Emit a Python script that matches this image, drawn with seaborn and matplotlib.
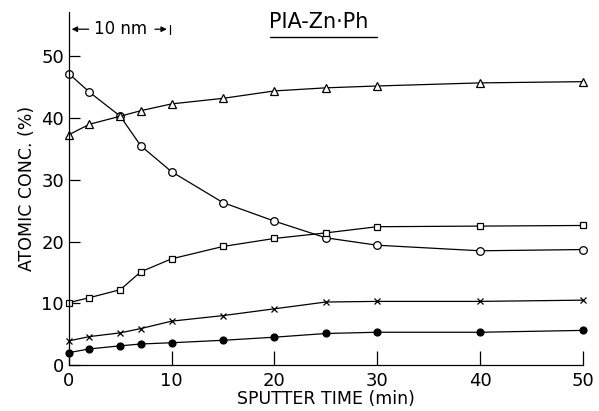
import pandas as pd
import matplotlib
matplotlib.use("Agg")
import matplotlib.pyplot as plt
import seaborn as sns

# sputter times (min)
t = [0, 2, 5, 7, 10, 15, 20, 25, 30, 40, 50]

# atomic concentrations (%)
open_circle = [47.2, 44.2, 40.3, 35.5, 31.3, 26.3, 23.3, 20.6, 19.4, 18.5, 18.7]
triangle = [37.3, 39.0, 40.3, 41.2, 42.3, 43.2, 44.4, 44.9, 45.2, 45.7, 45.9]
square = [10.1, 10.9, 12.2, 15.1, 17.2, 19.2, 20.5, 21.4, 22.4, 22.5, 22.6]
cross = [3.9, 4.6, 5.2, 5.9, 7.1, 8.0, 9.1, 10.2, 10.3, 10.3, 10.5]
filled = [2.0, 2.6, 3.1, 3.4, 3.6, 4.0, 4.5, 5.1, 5.3, 5.3, 5.6]

yticks = [0, 10, 20, 30, 40, 50]
xticks = [0, 10, 20, 30, 40, 50]

sns.set_style("ticks")
plt.rcParams['font.family'] = ['DejaVu Sans']
plt.rcParams['text.color'] = 'black'
plt.rcParams['axes.labelcolor'] = 'black'

fig = plt.figure(figsize=(5.99, 4.11), dpi=100)
ax = fig.add_axes([0.115, 0.112, 0.858, 0.859])

styles = [
    (open_circle, 'o', 'white', 5.5),
    (triangle, '^', 'white', 5.5),
    (square, 's', 'white', 5),
    (cross, 'x', 'black', 4.5),
    (filled, 'o', 'black', 5),
]
for vals, mk, fc, ms in styles:
    df = pd.DataFrame({'time': t, 'conc': vals})
    sns.lineplot(data=df, x='time', y='conc', ax=ax, color='black', lw=0.9,
                 marker=mk, markersize=ms, markerfacecolor=fc,
                 markeredgecolor='black', markeredgewidth=0.9, clip_on=False)

ax.set_xlim(0, 50)
ax.set_ylim(0, 57.2)
ax.set_xticks(xticks)
ax.set_yticks(yticks)
ax.tick_params(direction='in', length=8, width=0.9, labelsize=13, colors='black')
ax.tick_params(axis='x', length=10, pad=5)
sns.despine(ax=ax)
for s in ['left', 'bottom']:
    ax.spines[s].set_linewidth(0.9)
    ax.spines[s].set_color('black')

ax.set_xlabel("SPUTTER TIME (min)", fontsize=12.5, labelpad=0, color='black')
ax.set_ylabel("ATOMIC CONC. (%)", fontsize=12.5, labelpad=4, color='black')

# thickness marker and sample label
ax.annotate("", xy=(0, 54.4), xytext=(2.2, 54.4),
            arrowprops=dict(arrowstyle='-|>', color='black', lw=0.9, mutation_scale=8))
ax.text(2.4, 54.4, "10 nm", fontsize=12, va='center', ha='left', color='black')
ax.annotate("", xy=(9.8, 54.4), xytext=(8.1, 54.4),
            arrowprops=dict(arrowstyle='-|>', color='black', lw=0.9, mutation_scale=8))
ax.plot([9.8, 9.8], [53.7, 55.1], color='black', lw=0.9, clip_on=False)
ax.text(19.5, 55.5, "PIA-Zn·Ph", fontsize=15, va='center', ha='left', color='black')
ax.plot([19.6, 30.0], [53.2, 53.2], color='black', lw=1.0, clip_on=False)

fig.savefig("out.png", dpi=100)
